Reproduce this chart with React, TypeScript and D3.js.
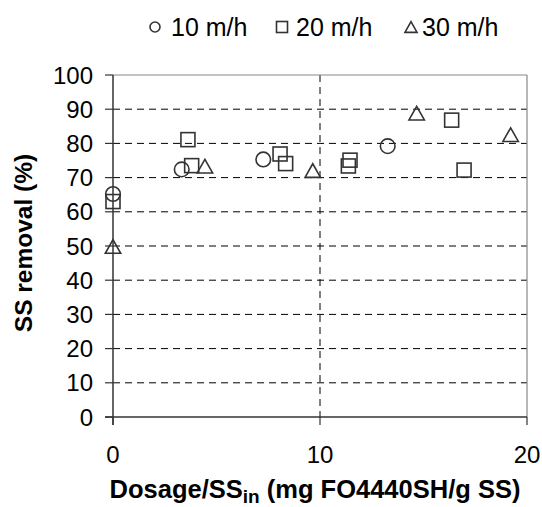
import React from "react";
import * as d3 from "d3";

const yTicks = [0, 10, 20, 30, 40, 50, 60, 70, 80, 90, 100];
const xTicks = [0, 10, 20];

const s10x = [0, 3.32, 7.26, 13.27];
const s10y = [65.2, 72.4, 75.3, 79.2];
const s20x = [0, 3.62, 3.8, 8.07, 8.34, 11.45, 11.37, 16.36, 16.96];
const s20y = [63.0, 81.1, 73.5, 76.9, 74.1, 75.1, 73.4, 86.8, 72.2];
const s30x = [0, 4.44, 9.65, 14.67, 19.21];
const s30y = [49.5, 73.0, 71.7, 88.5, 82.2];

const legendLabels = ["10 m/h", "20 m/h", "30 m/h"];

const W = 542, H = 507;
const left = 113, right = 527, top = 75, bottom = 417;

export default function App() {
  const x = d3.scaleLinear().domain([0, 20]).range([left, right]);
  const y = d3.scaleLinear().domain([0, 100]).range([bottom, top]);
  const stroke = "#333";
  const font = "Liberation Sans, Arial, sans-serif";

  const circle = (cx: number, cy: number, r: number, k: string) => (
    <circle key={k} cx={cx} cy={cy} r={r} fill="none" stroke={stroke} strokeWidth={1.6} />
  );
  const square = (cx: number, cy: number, h: number, k: string) => (
    <rect key={k} x={cx - h} y={cy - h} width={2 * h} height={2 * h} fill="none" stroke={stroke} strokeWidth={1.6} />
  );
  const tri = (cx: number, cy: number, h: number, k: string) => (
    <path key={k} d={`M${cx},${cy - h * 1.15}L${cx + h * 1.1},${cy + h * 0.8}L${cx - h * 1.1},${cy + h * 0.8}Z`} fill="none" stroke={stroke} strokeWidth={1.6} />
  );

  return (
    <svg width={W} height={H} style={{ position: "absolute", left: 0, top: 0 }} fontFamily={font}>
      <rect width={W} height={H} fill="#fff" />
      {yTicks.filter((t) => t > 0 && t < 100).map((t) => (
        <line key={"g" + t} x1={left} x2={right} y1={y(t)} y2={y(t)} stroke="#000" strokeWidth={1} strokeDasharray="7,5" />
      ))}
      <line x1={x(10)} x2={x(10)} y1={top} y2={bottom} stroke="#000" strokeWidth={1} strokeDasharray="7,5" />
      <line x1={left} x2={right} y1={top} y2={top} stroke="#888" strokeWidth={1.2} />
      <line x1={right} x2={right} y1={top} y2={bottom} stroke="#888" strokeWidth={1.2} />
      <line x1={left} x2={left} y1={top} y2={bottom + 8} stroke={stroke} strokeWidth={1.5} />
      <line x1={left - 8} x2={right} y1={bottom} y2={bottom} stroke={stroke} strokeWidth={1.5} />
      {yTicks.map((t) => (
        <g key={"y" + t}>
          <line x1={left - 8} x2={left} y1={y(t)} y2={y(t)} stroke={stroke} strokeWidth={1.2} />
          <text x={93} y={y(t)} dy="0.36em" textAnchor="end" fontSize={24}>{t}</text>
        </g>
      ))}
      {xTicks.map((t) => (
        <g key={"x" + t}>
          <line x1={x(t)} x2={x(t)} y1={bottom} y2={bottom + 8} stroke={stroke} strokeWidth={1.2} />
          <text x={x(t)} y={463} textAnchor="middle" fontSize={24}>{t}</text>
        </g>
      ))}
      {s30x.map((v, i) => tri(x(v), y(s30y[i]), 7, "t" + i))}
      {s20x.map((v, i) => square(x(v), y(s20y[i]), 7, "s" + i))}
      {s10x.map((v, i) => circle(x(v), y(s10y[i]), 7.3, "c" + i))}
      <text x={315} y={498} textAnchor="middle" fontSize={25.5} fontWeight="bold">
        Dosage/SS<tspan fontSize={19} dy={5}>in</tspan><tspan dy={-5}> (mg FO4440SH/g SS)</tspan>
      </text>
      <text transform={`translate(32,243) rotate(-90)`} textAnchor="middle" fontSize={24.5} fontWeight="bold">
        SS removal (%)
      </text>
      {circle(155, 27, 5, "lc")}
      <text x={171} y={36} fontSize={25}>{legendLabels[0]}</text>
      {square(282, 27, 5.5, "ls")}
      <text x={296} y={36} fontSize={25}>{legendLabels[1]}</text>
      {tri(411, 28, 5.5, "lt")}
      <text x={422} y={36} fontSize={25}>{legendLabels[2]}</text>
    </svg>
  );
}
